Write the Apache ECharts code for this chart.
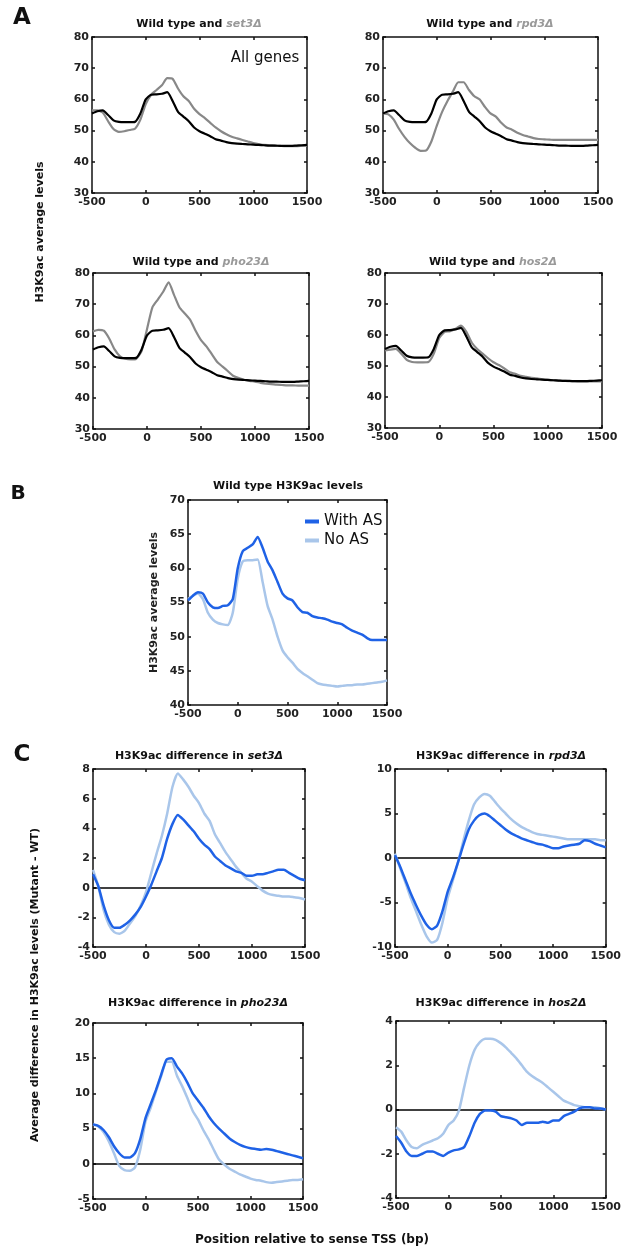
<!DOCTYPE html>
<html><head><meta charset="utf-8">
<script src="https://cdn.jsdelivr.net/npm/echarts@6/dist/echarts.min.js"></script>
<style>html,body{margin:0;padding:0;background:#fff}#c{width:624px;height:1257px}</style>
</head><body><div id="c"></div>
<script>
// Positions relative to TSS (bp)
const positions = [-500,-450,-400,-350,-300,-250,-200,-150,-100,-50,0,50,100,150,200,250,300,350,400,450,500,550,600,650,700,750,800,850,900,950,1000,1050,1100,1150,1200,1250,1300,1350,1400,1450,1500];
const xTicks = [-500, 0, 500, 1000, 1500];

// Panel A: H3K9ac average levels (all genes)
const wildType = [55.5,56.2,56.5,55,53.3,52.8,52.7,52.7,52.8,55.5,60,61.5,61.6,61.8,62.3,59.5,56,54.5,53,51,49.8,49,48.2,47.2,46.8,46.3,46,45.8,45.7,45.6,45.5,45.4,45.3,45.2,45.2,45.1,45.1,45.1,45.2,45.3,45.4];
const set3 = [56.5,56.5,55.8,53,50.5,49.6,49.8,50.2,50.6,53.5,58.5,61.5,63,64.5,66.8,66.6,63.5,61,59.5,57,55.3,54,52.5,51,49.8,48.8,48,47.5,47,46.5,46,45.7,45.4,45.3,45.2,45.1,45,45,45,45.1,45.2];
const rpd3 = [55.5,55.2,53.5,50.5,48,46,44.5,43.5,43.6,46.5,51.5,56,59.5,62.5,65.5,65.5,63,61,60,57.5,55.5,54.5,52.5,51,50.3,49.3,48.6,48.1,47.6,47.3,47.2,47.1,47,47,47,47,47,47,47,47,47];
const pho23 = [61.3,61.8,61.5,59,55.5,53.3,52.5,52.3,52.5,55,62,69,71.5,74,77,73,69,67,65,61.5,58.5,56.5,54,51.5,50,48.5,47,46.3,45.8,45.4,45.2,44.8,44.5,44.4,44.2,44.1,44,44,43.9,43.9,43.9];
const hos2 = [55,55.3,55.5,54,52,51.3,51.2,51.2,51.3,54,59,61,61.2,62,63,61,57.5,55.5,54,52.5,51.2,50.3,49.2,48,47.5,46.8,46.5,46.2,46,45.7,45.5,45.4,45.3,45.2,45.1,45.1,45,45,45,45,45];

// Panel B: wild type H3K9ac levels
const withAS = [55.3,56,56.5,56.3,55,54.3,54.2,54.5,54.6,55.5,60,62.5,63,63.5,64.6,63,61,59.7,58,56.3,55.6,55.3,54.3,53.6,53.5,53,52.8,52.7,52.5,52.2,52,51.8,51.3,50.9,50.6,50.3,49.8,49.5,49.5,49.5,49.5];
const noAS = [55.5,56,56.3,55.5,53.5,52.5,52,51.8,51.7,53.5,58.5,61,61.2,61.2,61.3,58,54.5,52.5,50,48,47,46.2,45.3,44.7,44.2,43.7,43.2,43,42.9,42.8,42.7,42.8,42.9,42.9,43,43,43.1,43.2,43.3,43.4,43.6];

// Panel C: difference (mutant - WT)
const set3WithAS = [0.9,0.1,-1.2,-2.2,-2.7,-2.7,-2.5,-2.2,-1.8,-1.3,-0.6,0.2,1.1,2,3.3,4.3,4.9,4.6,4.2,3.8,3.3,2.9,2.6,2.1,1.8,1.5,1.3,1.1,1,0.8,0.8,0.9,0.9,1,1.1,1.2,1.2,1,0.8,0.6,0.5];
const set3NoAS = [1.2,0.1,-1.5,-2.5,-3,-3.1,-2.9,-2.4,-1.9,-1.2,-0.3,1,2.3,3.5,5,6.8,7.7,7.3,6.8,6.2,5.7,5,4.5,3.6,3,2.4,1.9,1.4,1,0.6,0.4,0.1,-0.2,-0.4,-0.5,-0.55,-0.6,-0.6,-0.65,-0.7,-0.8];
const rpd3WithAS = [0.3,-1,-2.5,-4,-5.3,-6.5,-7.5,-8,-7.6,-6,-3.8,-2.2,-0.4,1.5,3.2,4.2,4.8,5,4.7,4.2,3.7,3.2,2.8,2.5,2.2,2,1.8,1.6,1.5,1.3,1.1,1.1,1.3,1.4,1.5,1.6,2,1.9,1.6,1.4,1.2];
const rpd3NoAS = [0.5,-1.2,-2.8,-4.5,-6,-7.5,-8.8,-9.5,-9.2,-7.3,-4.5,-2.5,-0.4,2,4.2,6,6.8,7.2,7,6.3,5.6,5,4.4,3.9,3.5,3.2,2.9,2.7,2.6,2.5,2.4,2.3,2.2,2.1,2.1,2.1,2.1,2.1,2.1,2,2];
const pho23WithAS = [5.6,5.4,4.8,3.8,2.5,1.5,0.9,0.9,1.5,3.5,6.5,8.5,10.5,12.7,14.8,15,13.8,12.8,11.5,10,9,8,6.8,5.8,5,4.3,3.6,3.1,2.7,2.4,2.2,2.1,2,2.1,2,1.8,1.6,1.4,1.2,1,0.8];
const pho23NoAS = [5.6,5.3,4.5,3.2,1.5,-0.3,-0.9,-1,-0.5,2,6,8,10.3,12.5,14.5,14.5,12.5,11,9.3,7.5,6.3,4.8,3.5,2,0.6,-0.1,-0.7,-1.1,-1.5,-1.8,-2.1,-2.3,-2.4,-2.6,-2.7,-2.6,-2.5,-2.4,-2.3,-2.3,-2.2];
const hos2WithAS = [-1.2,-1.5,-1.9,-2.1,-2.1,-2,-1.9,-1.9,-2,-2.1,-1.95,-1.85,-1.8,-1.7,-1.2,-0.6,-0.2,-0.05,-0.05,-0.1,-0.3,-0.35,-0.4,-0.5,-0.7,-0.6,-0.6,-0.6,-0.55,-0.6,-0.5,-0.5,-0.3,-0.2,-0.1,0.05,0.1,0.1,0.05,0.05,0];
const hos2NoAS = [-0.8,-1,-1.4,-1.7,-1.75,-1.6,-1.5,-1.4,-1.3,-1.1,-0.7,-0.5,-0.05,1,2,2.7,3.05,3.2,3.2,3.15,3,2.8,2.55,2.3,2,1.7,1.5,1.35,1.2,1,0.8,0.6,0.4,0.3,0.2,0.15,0.1,0.1,0.1,0.05,0];

const yTicksA = [30, 80, 10];
const yTicksB = [40, 70, 5];
const yTicksC = [[-4, 8, 2], [-10, 10, 5], [-5, 20, 5], [-4, 4, 2]];

const FONT = '"DejaVu Sans", "Liberation Sans", Arial, sans-serif';
const BLACK = '#000000', GRAY = '#888888', DARK = '#1f62e6', LIGHT = '#a9c6ea';

const grids = [
  {left: 92, top: 37, width: 215, height: 156},
  {left: 383, top: 37, width: 215, height: 156},
  {left: 93, top: 273, width: 216, height: 156},
  {left: 385, top: 273, width: 217, height: 155},
  {left: 188, top: 500, width: 199, height: 205},
  {left: 93, top: 769, width: 212, height: 178},
  {left: 395, top: 769, width: 212, height: 178},
  {left: 93, top: 1023, width: 210, height: 176},
  {left: 396, top: 1021, width: 211, height: 177}
];
const yRanges = [yTicksA, yTicksA, yTicksA, yTicksA, yTicksB].concat(yTicksC);
const plain = v => String(v);

const xAxes = [], yAxes = [];
grids.forEach((g, i) => {
  const base = {gridIndex: i, type: 'value', min: xTicks[0], max: xTicks[xTicks.length-1], interval: xTicks[1]-xTicks[0],
    axisLine: {show: true, onZero: false, lineStyle: {color: '#111', width: 1.5}},
    axisTick: {show: true, inside: true, length: 3, lineStyle: {color: '#111', width: 1.5}},
    splitLine: {show: false}};
  xAxes.push(Object.assign({}, base, {position: 'bottom',
    axisLabel: {show: true, formatter: plain, fontFamily: FONT, fontWeight: 'bold', fontSize: 11, color: '#222', margin: 4}}));
  xAxes.push(Object.assign({}, base, {position: 'top', axisLabel: {show: false}}));
  const r = yRanges[i];
  const yb = {gridIndex: i, type: 'value', min: r[0], max: r[1], interval: r[2],
    axisLine: {show: true, onZero: false, lineStyle: {color: '#111', width: 1.5}},
    axisTick: {show: true, inside: true, length: 3, lineStyle: {color: '#111', width: 1.5}},
    splitLine: {show: false}};
  yAxes.push(Object.assign({}, yb, {position: 'left',
    axisLabel: {show: true, formatter: plain, fontFamily: FONT, fontWeight: 'bold', fontSize: 11, color: '#222', margin: 3}}));
  yAxes.push(Object.assign({}, yb, {position: 'right', axisLabel: {show: false}}));
});
yAxes[8].name = 'H3K9ac average levels';
yAxes[8].nameLocation = 'middle';
yAxes[8].nameGap = 28;
yAxes[8].nameTextStyle = {fontFamily: FONT, fontWeight: 'bold', fontSize: 11, color: '#222'};

function pts(arr) { return positions.map((x, k) => [x, arr[k]]); }
const series = [];
function add(gi, arr, color, width, name, zero) {
  const s = {type: 'line', name: name, xAxisIndex: gi*2, yAxisIndex: gi*2, data: pts(arr),
    showSymbol: false, symbol: 'none', smooth: 0.2, lineStyle: {color: color, width: width}, itemStyle: {color: color}, z: 3};
  if (zero) s.markLine = {silent: true, symbol: 'none', label: {show: false},
    lineStyle: {color: '#000', width: 1.5, type: 'solid'}, data: [{yAxis: 0}], z: 2};
  series.push(s);
}
add(0, set3, GRAY, 2.2, 'set3');   add(0, wildType, BLACK, 2.2, 'wt0');
add(1, rpd3, GRAY, 2.2, 'rpd3');   add(1, wildType, BLACK, 2.2, 'wt1');
add(2, pho23, GRAY, 2.2, 'pho23'); add(2, wildType, BLACK, 2.2, 'wt2');
add(3, hos2, GRAY, 2.2, 'hos2');   add(3, wildType, BLACK, 2.2, 'wt3');
add(4, noAS, LIGHT, 2.5, 'No AS'); add(4, withAS, DARK, 2.5, 'With AS');
add(5, set3NoAS, LIGHT, 2.5, 'c1', true); add(5, set3WithAS, DARK, 2.5, 'c2');
add(6, rpd3NoAS, LIGHT, 2.5, 'c3', true); add(6, rpd3WithAS, DARK, 2.5, 'c4');
add(7, pho23NoAS, LIGHT, 2.5, 'c5', true); add(7, pho23WithAS, DARK, 2.5, 'c6');
add(8, hos2NoAS, LIGHT, 2.5, 'c7', true); add(8, hos2WithAS, DARK, 2.5, 'c8');

const rich = {
  b: {fontFamily: FONT, fontWeight: 'bold', fontSize: 11, fill: '#111'},
  g: {fontFamily: FONT, fontWeight: 'bold', fontStyle: 'italic', fontSize: 11, fill: '#999'},
  i: {fontFamily: FONT, fontWeight: 'bold', fontStyle: 'italic', fontSize: 11, fill: '#111'}
};
function title(x, y, text) {
  return {type: 'text', x: x, y: y, style: {text: text, rich: rich, align: 'center', verticalAlign: 'middle',
    fontFamily: FONT, fontWeight: 'bold', fontSize: 11, fill: '#111'}};
}
function txt(x, y, text, size, weight, rot, extra) {
  return Object.assign({type: 'text', x: x, y: y, rotation: rot || 0,
    style: {text: text, fontFamily: FONT, fontWeight: weight, fontSize: size, fill: '#111', align: 'center', verticalAlign: 'middle'}}, extra || {});
}

const graphics = [
  txt(22, 18, 'A', 23, 'bold'),
  txt(18, 494, 'B', 20, 'bold'),
  txt(22, 755, 'C', 23, 'bold'),
  title(199, 24, '{b|Wild type and }{g|set3Δ}'),
  title(490, 24, '{b|Wild type and }{g|rpd3Δ}'),
  title(201, 262, '{b|Wild type and }{g|pho23Δ}'),
  title(493, 262, '{b|Wild type and }{g|hos2Δ}'),
  title(288, 486, '{b|Wild type H3K9ac levels}'),
  title(199, 756, '{b|H3K9ac difference in }{i|set3Δ}'),
  title(501, 756, '{b|H3K9ac difference in }{i|rpd3Δ}'),
  title(198, 1003, '{b|H3K9ac difference in }{i|pho23Δ}'),
  title(501, 1003, '{b|H3K9ac difference in }{i|hos2Δ}'),
  txt(265, 58, 'All genes', 15, 'normal'),
  txt(40, 232, 'H3K9ac average levels', 11, 'bold', Math.PI/2),
  txt(35, 985, 'Average difference in H3K9ac levels (Mutant - WT)', 11, 'bold', Math.PI/2),
  txt(312, 1240, 'Position relative to sense TSS (bp)', 12, 'bold')
];

const chart = echarts.init(document.getElementById('c'), null, {renderer: 'canvas'});
chart.setOption({
  animation: false,
  backgroundColor: '#fff',
  grid: grids.map(g => Object.assign({containLabel: false}, g)),
  xAxis: xAxes,
  yAxis: yAxes,
  series: series,
  legend: {data: ['With AS', 'No AS'], orient: 'vertical', left: 300, top: 509, itemGap: 4,
    itemWidth: 14, itemHeight: 4, icon: 'rect',
    textStyle: {fontFamily: FONT, fontSize: 15, color: '#111'}},
  graphic: graphics
});
</script></body></html>
